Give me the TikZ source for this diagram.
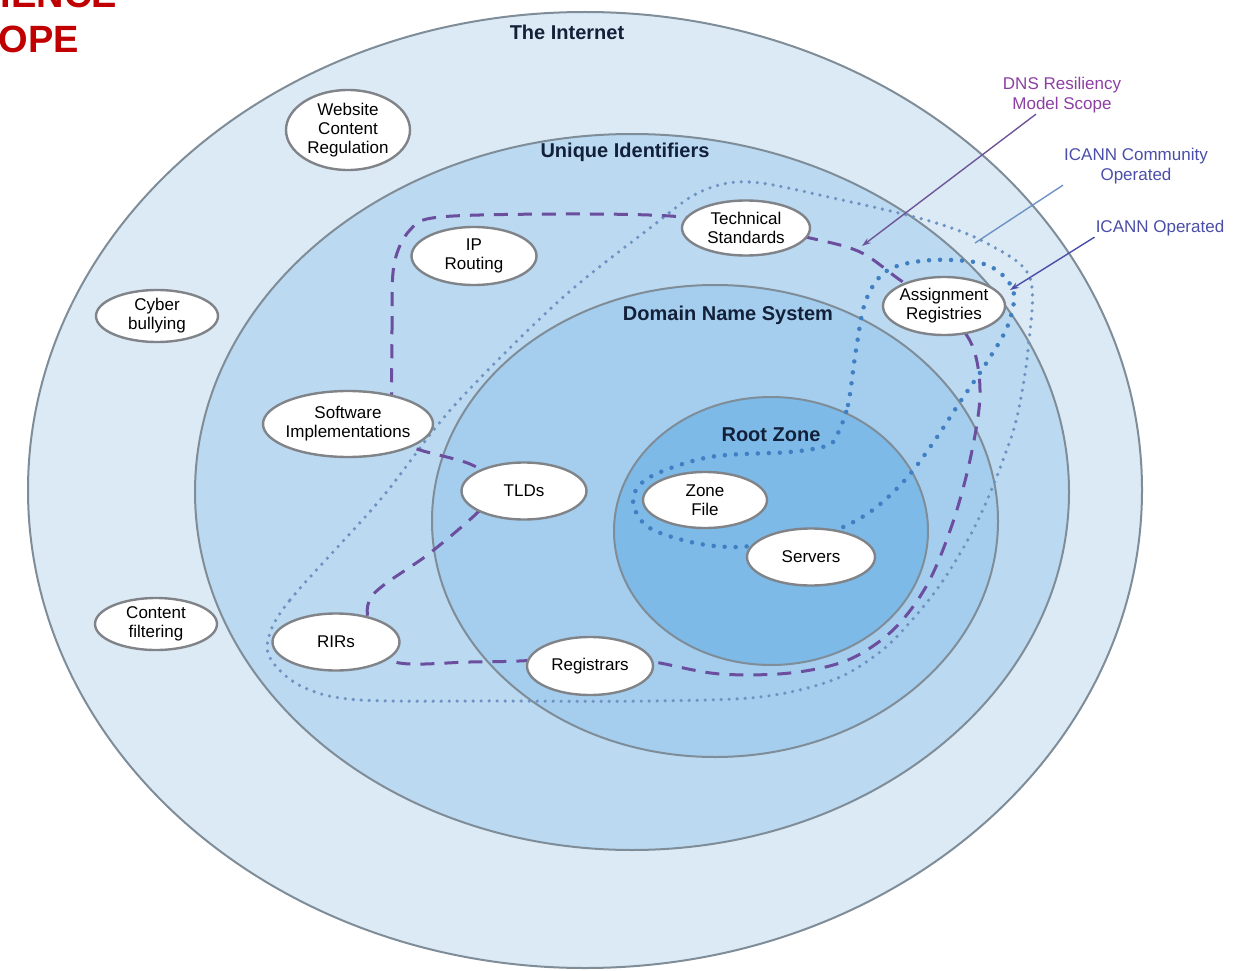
\documentclass[tikz,border=0pt]{standalone}
\usepackage{fontspec}
\setmainfont{Liberation Sans}
\usetikzlibrary{shapes.geometric,arrows.meta}
\definecolor{internetblue}{HTML}{DCEAF6}
\definecolor{uniqueblue}{HTML}{BBD9F0}
\definecolor{dnsblue}{HTML}{A5CEEE}
\definecolor{rootblue}{HTML}{7DBAE8}
\definecolor{ringgray}{HTML}{7F8D99}
\definecolor{itemgray}{HTML}{808488}
\definecolor{headnavy}{HTML}{13203A}
\definecolor{scopepurple}{HTML}{6B4E9E}
\definecolor{communityblue}{HTML}{6E93C2}
\definecolor{operatedblue}{HTML}{3F7FC2}
\definecolor{labelpurple}{HTML}{8C3FA2}
\definecolor{labelblue}{HTML}{4A4EA8}
\definecolor{titlered}{HTML}{C00000}
\begin{document}
\begin{tikzpicture}[x=1pt,y=-1pt,
  ring/.style={draw=ringgray,line width=2pt},
  item/.style={ellipse,draw=itemgray,line width=2.4pt,fill=white,inner sep=0pt,align=center,font=\fontsize{17}{19}\selectfont},
  head/.style={text=headnavy,font=\fontsize{20}{22}\selectfont\bfseries},
  callout/.style={align=center,font=\fontsize{17}{20}\selectfont,inner sep=1pt},
  title/.style={anchor=base east,inner sep=0pt,text=titlered,font=\fontsize{38}{40}\selectfont\bfseries},
  scopeline/.style={scopepurple,line width=3pt,dash pattern=on 14pt off 10pt},
  communityline/.style={communityblue,line width=3.6pt,line cap=round,dash pattern=on 0pt off 8pt},
  operatedline/.style={operatedblue,line width=4.5pt,line cap=round,dash pattern=on 0pt off 11pt},
  leader/.style={line width=1.4pt,-{Stealth[length=9pt,width=6pt]}}]
  \useasboundingbox (0,0) rectangle (1256,971);
  \clip (0,0) rectangle (1256,971);
  \path[ring,fill=internetblue] (585,490) ellipse [x radius=557,y radius=478];
  \path[ring,fill=uniqueblue] (632,492) ellipse [x radius=437,y radius=358];
  \path[ring,fill=dnsblue] (715,521) ellipse [x radius=283,y radius=236];
  \path[ring,fill=rootblue] (771,531) ellipse [x radius=157,y radius=134];
  \draw[communityline] plot[smooth cycle,tension=0.55] coordinates {(268,640) (290,600) (380,500) (453,407) (560,300) (650,228) (700,192) (750,182) (833,198) (933,222) (990,245) (1030,278) (1028,350) (1017,417) (1003,460) (985,505) (965,545) (940,585) (912,620) (880,652) (833,680) (760,697) (650,701) (500,701) (360,700) (305,688) (274,664)};
  \draw[operatedline] plot[smooth cycle,tension=0.55] coordinates {(836,437) (848,405) (856,350) (866,300) (888,270) (933,260) (987,265) (1013,290) (1008,325) (987,362) (960,402) (933,443) (905,480) (870,512) (828,533) (780,540) (740,547) (695,543) (648,527) (633,500) (650,477) (710,457) (790,452) (826,446)};
  \draw[scopeline] plot[smooth cycle,tension=0.55] coordinates {(392,425) (392,330) (394,265) (410,230) (440,217) (560,214) (670,216) (746,226) (810,238) (860,252) (900,280) (944,310) (972,345) (980,395) (970,460) (952,525) (927,585) (893,630) (848,660) (790,673) (720,674) (660,663) (600,651) (535,660) (470,662) (395,662) (372,632) (372,596) (430,553) (483,507) (494,482) (470,464) (420,450) (396,440)};
  \node[item,minimum width=124pt,minimum height=80pt] (website) at (348,130) {Website\\Content\\Regulation};
  \node[item,minimum width=122pt,minimum height=52pt] (cyber) at (157,316) {Cyber\\bullying};
  \node[item,minimum width=122pt,minimum height=52pt] (filtering) at (156,624) {Content\\filtering};
  \node[item,minimum width=125pt,minimum height=58pt] (iprouting) at (474,256) {IP\\Routing};
  \node[item,minimum width=128pt,minimum height=55pt] (techstd) at (746,228) {Technical\\Standards};
  \node[item,minimum width=122pt,minimum height=58pt,inner xsep=-3pt] (assign) at (944,306) {Assignment\\Registries};
  \node[item,minimum width=170pt,minimum height=66pt,inner xsep=-6pt] (software) at (348,424) {Software\\Implementations};
  \node[item,minimum width=125pt,minimum height=57pt] (tlds) at (524,491) {TLDs};
  \node[item,minimum width=124pt,minimum height=56pt] (zonefile) at (705,500) {Zone\\File};
  \node[item,minimum width=128pt,minimum height=57pt] (servers) at (811,557) {Servers};
  \node[item,minimum width=127pt,minimum height=57pt] (rirs) at (336,642) {RIRs};
  \node[item,minimum width=126pt,minimum height=58pt] (registrars) at (590,666) {Registrars};
  \node[head] (internet) at (567,32) {The Internet};
  \node[head] (unique) at (625,152) {Unique Identifiers};
  \node[head] (dns) at (728,315) {Domain Name System};
  \node[head] (rootzone) at (771,435) {Root Zone};
  \node[title] (titletop) at (117,8) {RESILIENCE};
  \node[title] (titlebottom) at (79,53) {SCOPE};
  \node[callout,text=labelpurple] (rmslabel) at (1062,95) {DNS Resiliency\\Model Scope};
  \node[callout,text=labelblue] (communitylabel) at (1136,166) {ICANN Community\\Operated};
  \node[callout,text=labelblue] (operatedlabel) at (1160,228) {ICANN Operated};
  \coordinate (scopetip) at (862,246);
  \coordinate (communitytip) at (975,243);
  \coordinate (operatedtip) at (1010,290);
  \draw[leader,draw=scopepurple!85!gray] ([xshift=-26pt]rmslabel.south) -- (scopetip);
  \draw[line width=1.4pt,draw=communityblue] (communitylabel.south west) -- (communitytip);
  \draw[leader,draw=labelblue] (operatedlabel.south west) -- (operatedtip);
\end{tikzpicture}
\end{document}
